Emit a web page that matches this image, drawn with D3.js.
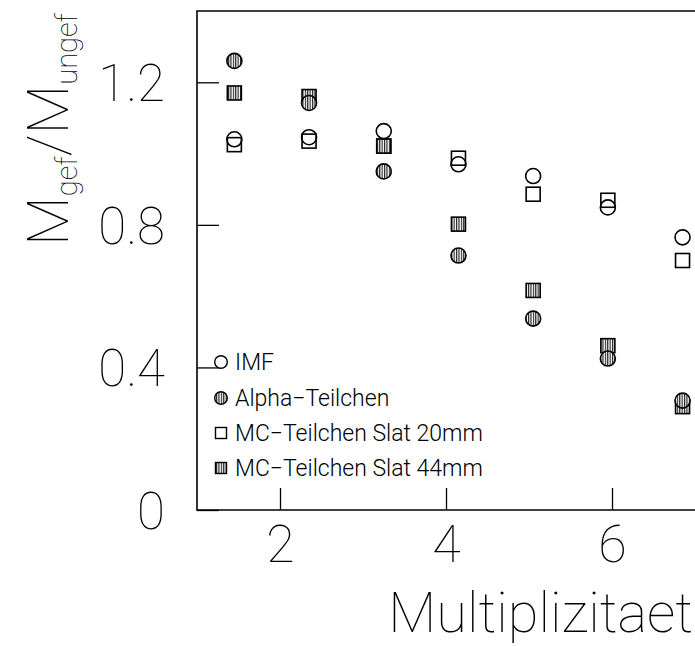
<!DOCTYPE html>
<html><head><meta charset="utf-8">
<script src="https://cdn.jsdelivr.net/npm/d3@7/dist/d3.min.js"></script>
<style>html,body{margin:0;padding:0;background:#fff;overflow:hidden}
text{font-family:Roboto,"DejaVu Sans",sans-serif;fill:#000}</style>
</head><body><svg id="c" width="695" height="646"></svg>
<script>
const multiplicity = [1.45, 2.35, 3.25, 4.15, 5.05, 5.95, 6.85];
const imf   = [1.040, 1.046, 1.063, 0.970, 0.937, 0.849, 0.765];
const alpha = [1.260, 1.142, 0.950, 0.714, 0.537, 0.425, 0.307];
const mc20  = [1.025, 1.035, 1.021, 0.987, 0.886, 0.869, 0.700];
const mc44  = [1.170, 1.160, 1.021, 0.802, 0.616, 0.461, 0.290];
const xTicks = [2, 4, 6];
const yTicks = [0, 0.4, 0.8, 1.2];
const legendLabels = ["IMF", "Alpha\u2212Teilchen", "MC\u2212Teilchen Slat 20mm", "MC\u2212Teilchen Slat 44mm"];

const svg = d3.select("#c");
const L = 197, T = 11, B = 510;
const x = d3.scaleLinear().domain([1, 8]).range([L, L + 7 * 83]);
const y = d3.scaleLinear().domain([0, 1.4]).range([B, T]);

const defs = svg.append("defs");
const pat = defs.append("pattern").attr("id", "hatch").attr("patternUnits", "userSpaceOnUse")
  .attr("width", 2.4).attr("height", 4);
pat.append("rect").attr("width", 2.4).attr("height", 4).attr("fill", "#fff");
pat.append("line").attr("x1", 0.6).attr("x2", 0.6).attr("y1", 0).attr("y2", 4)
  .attr("stroke", "#000").attr("stroke-width", 1);

// frame
svg.append("path").attr("d", `M${L + 600},${T}H${L}V${B}H${L + 600}`)
  .attr("fill", "none").attr("stroke", "#000").attr("stroke-width", 1.6);

// axes (ticks inward)
const xAxis = d3.axisBottom(x).tickValues(xTicks).tickSize(-22).tickPadding(15).tickFormat(d3.format("d"));
const gx = svg.append("g").attr("transform", `translate(0,${B})`).call(xAxis);
gx.select(".domain").remove();
gx.selectAll("line").attr("stroke", "#000").attr("stroke-width", 1.3);
gx.selectAll("text").attr("font-size", 52).attr("dy", "0.71em").style("font-weight", 100);

const yAxis = d3.axisLeft(y).tickValues(yTicks).tickSize(-22).tickPadding(32).tickFormat(d => d === 0 ? "0" : d3.format(".1f")(d));
const gy = svg.append("g").attr("transform", `translate(${L},0)`).call(yAxis);
gy.select(".domain").remove();
gy.selectAll("line").attr("stroke", "#000").attr("stroke-width", 1.3);
gy.selectAll("text").attr("font-size", 51).attr("dy", "0.36em").style("font-weight", 100);
gx.attr("font-family", null); gy.attr("font-family", null);

// axis titles
svg.append("text").attr("x", 693).attr("y", 632).attr("text-anchor", "end")
  .attr("font-size", 56).style("font-weight", 100).text("Multiplizitaet");

const yt = svg.append("text").attr("transform", "translate(68,246) rotate(-90)")
  .attr("font-size", 58).style("font-weight", 100);
yt.append("tspan").text("M");
yt.append("tspan").attr("font-size", 29).attr("dy", 9).text("gef");
yt.append("tspan").attr("dy", -9).text("/M");
yt.append("tspan").attr("font-size", 29).attr("dy", 9).text("ungef");

// markers
const R = 7.5, S = 14;
const series = [
  {vals: imf, shape: "circle", fill: "none"},
  {vals: mc20, shape: "square", fill: "none"},
  {vals: mc44, shape: "square", fill: "url(#hatch)"},
  {vals: alpha, shape: "circle", fill: "url(#hatch)"}
];
series.forEach(s => {
  const g = svg.append("g");
  const data = s.vals.map((v, i) => [multiplicity[i], v]);
  if (s.shape === "circle") {
    g.selectAll("circle").data(data).join("circle")
      .attr("cx", d => x(d[0])).attr("cy", d => y(d[1])).attr("r", R)
      .attr("fill", s.fill).attr("stroke", "#000").attr("stroke-width", 1.6);
  } else {
    g.selectAll("rect").data(data).join("rect")
      .attr("x", d => x(d[0]) - S / 2).attr("y", d => y(d[1]) - S / 2)
      .attr("width", S).attr("height", S)
      .attr("fill", s.fill).attr("stroke", "#000").attr("stroke-width", 1.6);
  }
});

// legend
const legShapes = [["circle", "none"], ["circle", "url(#hatch)"], ["square", "none"], ["square", "url(#hatch)"]];
const legY = [362, 398, 433, 468];
legendLabels.forEach((lab, i) => {
  const cy = legY[i], cx = 221;
  if (legShapes[i][0] === "circle") {
    svg.append("circle").attr("cx", cx).attr("cy", cy).attr("r", 6.3)
      .attr("fill", legShapes[i][1]).attr("stroke", "#000").attr("stroke-width", 1.4);
  } else {
    svg.append("rect").attr("x", cx - 5.5).attr("y", cy - 5.5).attr("width", 11).attr("height", 11)
      .attr("fill", legShapes[i][1]).attr("stroke", "#000").attr("stroke-width", 1.4);
  }
  svg.append("text").attr("x", 235).attr("y", cy).attr("dy", "0.36em")
    .attr("font-size", 23).style("font-weight", 300).text(lab);
});
</script></body></html>
